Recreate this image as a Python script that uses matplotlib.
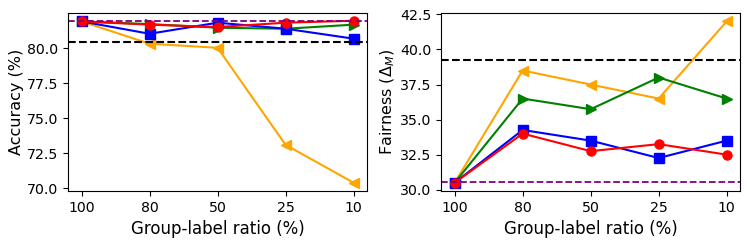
import numpy as np
import matplotlib.pyplot as plt

# --- Dane ---
ratios = ["100", "80", "50", "25", "10"]

acc_orange = [81.9, 80.31, 80.02, 73.1, 70.4]
acc_green = [81.9, 81.71, 81.45, 81.38, 81.67]
acc_blue = [81.9, 81.02, 81.81, 81.38, 80.67]
acc_red = [81.9, 81.67, 81.5, 81.81, 81.95]
acc_black_ref = 80.40
acc_purple_ref = 81.90

fair_orange = [30.5, 38.5, 37.5, 36.5, 42.0]
fair_green = [30.5, 36.5, 35.74, 38.0, 36.5]
fair_blue = [30.5, 34.26, 33.5, 32.26, 33.5]
fair_red = [30.5, 34.0, 32.75, 33.25, 32.5]
fair_black_ref = 39.26
fair_purple_ref = 30.52


def draw_panel(ax, orange, green, blue, red, black_ref, purple_ref):
    x = np.arange(len(ratios))
    ax.plot(x, orange, color="orange", marker="<", ms=7, lw=1.5)
    ax.plot(x, green, color="green", marker=">", ms=7, lw=1.5)
    ax.plot(x, blue, color="blue", marker="s", ms=6.5, lw=1.5)
    ax.plot(x, red, color="red", marker="o", ms=6.5, lw=1.5)
    ax.axhline(black_ref, color="black", ls="--", lw=1.5)
    ax.axhline(purple_ref, color="purple", ls="--", lw=1.3)
    ax.set_xticks(x)
    ax.set_xticklabels(ratios)
    ax.set_xlim(-0.2, len(ratios) - 0.8)
    ax.set_xlabel("Group-label ratio (%)", fontsize=12)
    ax.tick_params(labelsize=10.2)


fig, (ax1, ax2) = plt.subplots(1, 2, figsize=(7.47, 2.41), dpi=100)

draw_panel(ax1, acc_orange, acc_green, acc_blue, acc_red, acc_black_ref, acc_purple_ref)
ax1.set_ylabel("Accuracy (%)", fontsize=11.5, labelpad=2)
ax1.set_ylim(69.8, 82.5)
ax1.set_yticks([70.0, 72.5, 75.0, 77.5, 80.0])

draw_panel(ax2, fair_orange, fair_green, fair_blue, fair_red, fair_black_ref, fair_purple_ref)
ax2.set_ylabel(r"Fairness ($\Delta_M$)", fontsize=11.5, labelpad=2)
ax2.set_ylim(29.9, 42.6)
ax2.set_yticks([30.0, 32.5, 35.0, 37.5, 40.0, 42.5])

fig.subplots_adjust(left=0.091, right=0.991, top=0.946, bottom=0.207, wspace=0.247)
fig.savefig("out.png")
